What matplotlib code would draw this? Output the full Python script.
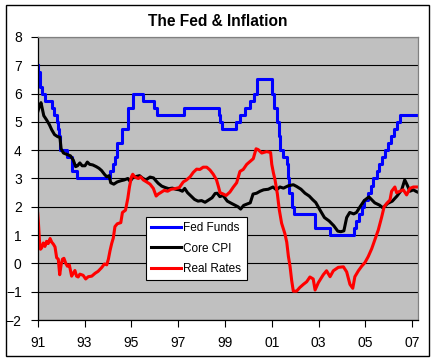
import matplotlib
matplotlib.use('Agg')
import matplotlib.pyplot as plt
from matplotlib.patches import Rectangle

plt.rcParams['font.family'] = ['Liberation Sans', 'DejaVu Sans']

# Fed funds target: dates where the rate changes (decimal years) and the new level
ff_dates = [1991.0, 1991.02, 1991.09, 1991.18, 1991.33, 1991.60, 1991.70, 1991.83,
            1991.85, 1991.93, 1991.97, 1992.24, 1992.47, 1992.66, 1994.09, 1994.22,
            1994.29, 1994.37, 1994.62, 1994.87, 1995.08, 1995.51, 1995.97, 1996.08,
            1997.23, 1998.74, 1998.79, 1998.88, 1999.49, 1999.65, 1999.87, 2000.09,
            2000.22, 2000.37, 2001.01, 2001.08, 2001.21, 2001.29, 2001.37, 2001.49,
            2001.64, 2001.71, 2001.75, 2001.85, 2001.94, 2002.85, 2003.48, 2004.50,
            2004.61, 2004.72, 2004.86, 2004.95, 2005.09, 2005.22, 2005.34, 2005.50,
            2005.60, 2005.72, 2005.84, 2005.95, 2006.08, 2006.24, 2006.36, 2006.49,
            2007.23]
ff_rate = [7.0, 6.75, 6.25, 6.0, 5.75, 5.5, 5.25, 5.0,
           4.75, 4.5, 4.0, 3.75, 3.25, 3.0, 3.25, 3.5,
           3.75, 4.25, 4.75, 5.5, 6.0, 5.75, 5.5, 5.25,
           5.5, 5.25, 5.0, 4.75, 5.0, 5.25, 5.5, 5.75,
           6.0, 6.5, 6.0, 5.5, 5.0, 4.5, 4.0, 3.75,
           3.5, 3.0, 2.5, 2.0, 1.75, 1.25, 1.0, 1.25,
           1.5, 1.75, 2.0, 2.25, 2.5, 2.75, 3.0, 3.25,
           3.5, 3.75, 4.0, 4.25, 4.5, 4.75, 5.0, 5.25,
           5.25]

cpi_dates = [1991.00, 1991.07, 1991.14, 1991.20, 1991.26, 1991.38, 1991.50, 1991.60,
             1991.72, 1991.85, 1991.95, 1992.00, 1992.10, 1992.25, 1992.40, 1992.52,
             1992.62, 1992.70, 1992.80, 1992.90, 1993.02, 1993.12, 1993.22, 1993.35,
             1993.50, 1993.62, 1993.73, 1993.85, 1993.95, 1994.05, 1994.12, 1994.25,
             1994.40, 1994.55, 1994.70, 1994.85, 1994.95, 1995.05, 1995.20, 1995.35,
             1995.50, 1995.62, 1995.80, 1995.95, 1996.05, 1996.15, 1996.30, 1996.45,
             1996.60, 1996.75, 1996.90, 1997.05, 1997.18, 1997.28, 1997.40, 1997.55,
             1997.70, 1997.85, 1998.00, 1998.15, 1998.30, 1998.45, 1998.58, 1998.67,
             1998.78, 1998.92, 1999.10, 1999.28, 1999.42, 1999.56, 1999.67, 1999.80,
             1999.95, 2000.08, 2000.20, 2000.35, 2000.50, 2000.65, 2000.85, 2001.05,
             2001.20, 2001.35, 2001.50, 2001.70, 2001.92, 2002.06, 2002.25, 2002.42,
             2002.60, 2002.75, 2002.88, 2003.05, 2003.25, 2003.45, 2003.65, 2003.82,
             2003.95, 2004.08, 2004.20, 2004.33, 2004.50, 2004.62, 2004.77, 2004.95,
             2005.15, 2005.40, 2005.60, 2005.75, 2005.95, 2006.15, 2006.35, 2006.55,
             2006.68, 2006.78, 2006.90, 2007.05, 2007.15, 2007.23]
core_cpi = [5.35, 5.55, 5.68, 5.45, 5.22, 5.07, 4.90, 4.72,
            4.55, 4.48, 4.45, 4.05, 3.90, 3.85, 3.80, 3.65,
            3.42, 3.45, 3.55, 3.45, 3.45, 3.58, 3.50, 3.48,
            3.42, 3.36, 3.28, 3.15, 3.06, 3.10, 2.85, 2.80,
            2.88, 2.92, 2.95, 3.00, 2.90, 3.02, 3.07, 3.10,
            3.00, 2.95, 3.05, 3.02, 2.92, 2.83, 2.73, 2.68,
            2.64, 2.66, 2.62, 2.60, 2.55, 2.65, 2.50, 2.38,
            2.26, 2.20, 2.22, 2.16, 2.24, 2.32, 2.47, 2.48,
            2.36, 2.40, 2.20, 2.12, 2.06, 2.00, 1.92, 2.05,
            2.10, 2.14, 2.45, 2.48, 2.55, 2.60, 2.62, 2.70,
            2.60, 2.70, 2.66, 2.74, 2.78, 2.72, 2.62, 2.48,
            2.38, 2.25, 2.15, 1.90, 1.62, 1.50, 1.33, 1.14,
            1.12, 1.15, 1.62, 1.80, 1.75, 1.80, 2.00, 2.22,
            2.35, 2.14, 2.06, 1.96, 2.12, 2.20, 2.38, 2.60,
            2.95, 2.78, 2.55, 2.60, 2.55, 2.52]

real_dates = [1991.00, 1991.03, 1991.08, 1991.12, 1991.17, 1991.24, 1991.31, 1991.38,
              1991.45, 1991.53, 1991.60, 1991.67, 1991.74, 1991.81, 1991.88, 1991.94,
              1992.00, 1992.06, 1992.12, 1992.20, 1992.27, 1992.35, 1992.45, 1992.52,
              1992.59, 1992.66, 1992.73, 1992.80, 1992.94, 1993.05, 1993.16, 1993.31,
              1993.45, 1993.58, 1993.73, 1993.85, 1993.95, 1994.02, 1994.09, 1994.16,
              1994.23, 1994.30, 1994.40, 1994.55, 1994.62, 1994.75, 1994.85, 1994.92,
              1995.00, 1995.06, 1995.15, 1995.30, 1995.40, 1995.51, 1995.65, 1995.80,
              1995.94, 1996.06, 1996.15, 1996.25, 1996.40, 1996.55, 1996.70, 1996.86,
              1997.05, 1997.22, 1997.36, 1997.51, 1997.65, 1997.79, 1997.93, 1998.07,
              1998.22, 1998.36, 1998.50, 1998.64, 1998.72, 1998.79, 1998.93, 1999.05,
              1999.21, 1999.36, 1999.50, 1999.57, 1999.64, 1999.78, 1999.93, 2000.07,
              2000.21, 2000.33, 2000.42, 2000.57, 2000.78, 2000.95, 2001.00, 2001.07,
              2001.14, 2001.24, 2001.32, 2001.42, 2001.56, 2001.64, 2001.71, 2001.78,
              2001.85, 2001.92, 2002.06, 2002.20, 2002.35, 2002.49, 2002.63, 2002.77,
              2002.85, 2002.99, 2003.20, 2003.34, 2003.49, 2003.63, 2003.84, 2004.06,
              2004.20, 2004.34, 2004.46, 2004.55, 2004.70, 2004.84, 2004.98, 2005.12,
              2005.27, 2005.41, 2005.55, 2005.69, 2005.80, 2005.91, 2006.05, 2006.12,
              2006.26, 2006.33, 2006.48, 2006.62, 2006.76, 2006.90, 2007.05, 2007.23]
real_rates = [1.77, 1.45, 0.75, 0.50, 0.55, 0.72, 0.60, 0.78,
              0.70, 0.88, 0.75, 0.68, 0.58, 0.20, 0.15, -0.40,
              -0.05, 0.15, 0.18, 0.00, -0.10, -0.05, -0.45, -0.35,
              -0.25, -0.45, -0.48, -0.38, -0.42, -0.55, -0.47, -0.45,
              -0.35, -0.28, -0.15, -0.02, -0.05, 0.15, 0.45, 0.70,
              0.90, 1.30, 1.40, 1.44, 1.80, 1.88, 2.30, 2.70,
              3.05, 3.15, 3.05, 3.00, 3.06, 2.95, 2.88, 2.80,
              2.65, 2.38, 2.45, 2.50, 2.58, 2.55, 2.62, 2.64,
              2.68, 2.88, 2.95, 3.06, 3.22, 3.33, 3.32, 3.40,
              3.40, 3.30, 3.15, 2.95, 2.72, 2.50, 2.45, 2.40,
              2.52, 2.70, 2.85, 3.05, 3.25, 3.32, 3.50, 3.60,
              3.70, 4.05, 4.02, 3.90, 3.95, 3.92, 3.50, 3.20,
              2.95, 2.45, 1.90, 1.42, 1.05, 0.75, 0.25, -0.10,
              -0.60, -0.98, -0.98, -0.85, -0.74, -0.65, -0.48, -0.55,
              -0.94, -0.68, -0.40, -0.26, -0.47, -0.26, -0.14, -0.12,
              -0.30, -0.74, -0.88, -0.47, -0.26, -0.10, 0.03, 0.24,
              0.52, 0.85, 1.18, 1.62, 2.00, 2.12, 2.24, 2.55,
              2.70, 2.50, 2.55, 2.60, 2.42, 2.65, 2.70, 2.70]

year_ticks = [1991, 1993, 1995, 1997, 1999, 2001, 2003, 2005, 2007]
year_labels = ['91', '93', '95', '97', '99', '01', '03', '05', '07']

W, H = 436, 362

fig = plt.figure(figsize=(W / 100, H / 100), dpi=100, facecolor='white')
ax = fig.add_axes([37.7 / W, (H - 320) / H, (418.3 - 37.7) / W, (320 - 37) / H])
ax.set_facecolor('#c0c0c0')

lw = 2.2
ax.plot(ff_dates, ff_rate, color='#0000ff', lw=lw, drawstyle='steps-post', label='Fed Funds')
ax.plot(cpi_dates, core_cpi, color='black', lw=lw, label='Core CPI')
ax.plot(real_dates, real_rates, color='#ff0000', lw=lw, label='Real Rates')

ax.set_xlim(1991, 2007.26)
ax.set_ylim(-2, 8)
ax.set_yticks(range(-2, 9))
ax.set_xticks(year_ticks)
ax.set_xticklabels(year_labels)
ax.tick_params(axis='y', length=5, width=0.8, direction='out', pad=6.5, labelsize=10)
ax.tick_params(axis='x', length=5, width=0.8, direction='out', pad=6.5, labelsize=10)

ax.grid(axis='y', color='black', lw=0.8)
ax.set_axisbelow(True)

for side in ['left', 'bottom']:
    ax.spines[side].set_color('black')
    ax.spines[side].set_linewidth(0.9)
for side in ['top', 'right']:
    ax.spines[side].set_color('#808080')
    ax.spines[side].set_linewidth(0.9)

fig.text(217.5 / W, 1 - 25.7 / H, 'The Fed & Inflation', ha='center', va='baseline',
         fontsize=11.2, fontweight='bold')

leg = ax.legend(loc='upper left', bbox_to_anchor=(146 / W, 1 - 217 / H),
                bbox_transform=fig.transFigure, fontsize=8.5, frameon=True,
                fancybox=False, shadow=False, framealpha=1, edgecolor='black',
                handlelength=2.55, handletextpad=0.15, borderpad=0.45,
                labelspacing=0.7, borderaxespad=0)
leg.get_frame().set_linewidth(0.8)
for line in leg.get_lines():
    line.set_linewidth(2.2)

fig.patches.append(Rectangle((5.5 / W, (H - 356) / H), (429 - 5.5) / W, (356 - 5) / H,
                             transform=fig.transFigure, fill=False, ec='black', lw=1.0))

fig.savefig('out.png', dpi=100, facecolor='white')
